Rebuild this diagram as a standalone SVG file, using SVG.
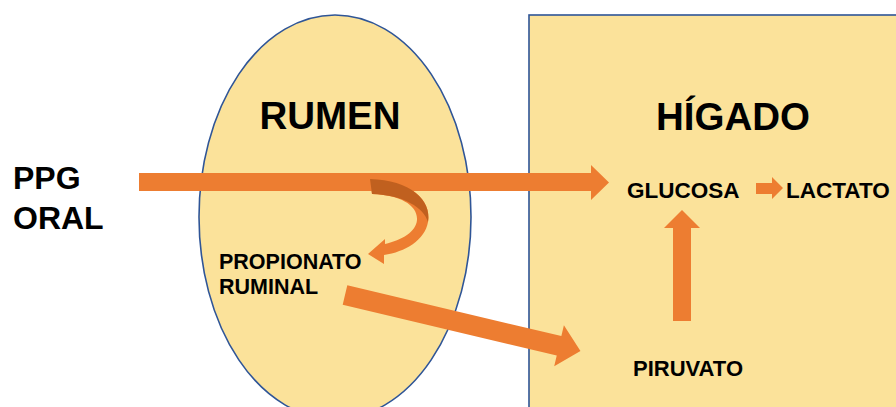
<svg xmlns="http://www.w3.org/2000/svg" width="896" height="407" viewBox="0 0 896 407">
<style>
.area{fill:#FBE29A;stroke:#2F5597;stroke-width:1.6}
.t{font-family:"Liberation Sans",Arial,sans-serif;font-weight:bold;fill:#000}
.arr{fill:#ED7D31}
.dark{fill:#C0601F}
</style>
<rect width="896" height="407" fill="#fff"/>
<g id="higado">
<rect class="area" x="529" y="15" width="380" height="410"/>
<text class="t" x="733" y="130" font-size="38.5" text-anchor="middle">HÍGADO</text>
</g>
<g id="rumen">
<ellipse class="area" cx="335" cy="217" rx="136" ry="202"/>
<text class="t" x="330" y="129" font-size="38.5" text-anchor="middle">RUMEN</text>
</g>
<g id="ppg">
<text class="t" x="13" y="189" font-size="32">PPG</text>
<text class="t" x="13" y="229" font-size="32">ORAL</text>
</g>
<g id="propionato">
<text class="t" x="219" y="269" font-size="21.5">PROPIONATO</text>
<text class="t" x="219" y="294" font-size="21.5">RUMINAL</text>
</g>
<g id="glucosa">
<text class="t" x="627" y="198" font-size="22.5">GLUCOSA</text>
</g>
<g id="lactato">
<text class="t" x="786" y="198" font-size="22.5">LACTATO</text>
</g>
<g id="piruvato">
<text class="t" x="633" y="376" font-size="22">PIRUVATO</text>
</g>
<g id="connectors">
<polygon class="arr" points="139,173 591,173 591,165 609,182.5 591,200 591,191 139,191"/>
<path class="arr" d="M370,179 C410,180 432,200 428,222 C425,240 405,252 384,255 L384,264 L368,254 L385,239 L385,244 C402,240 416,232 417,220 C418,205 400,195 372,194 Z"/>
<path class="dark" d="M370,179 C410,180 432,200 428,222 C424,208 404,195 372,194 Z"/>
<polygon class="arr" transform="translate(345,295) rotate(13.35)" points="0,-10 220,-10 220,-21 242,0 220,21 220,10 0,10"/>
<polygon class="arr" points="673,321 673,228 664,228 682,210 700,228 691,228 691,321"/>
<polygon class="arr" points="756,183 772,183 772,177 783,188 772,199 772,194 756,194"/>
</g>
</svg>
